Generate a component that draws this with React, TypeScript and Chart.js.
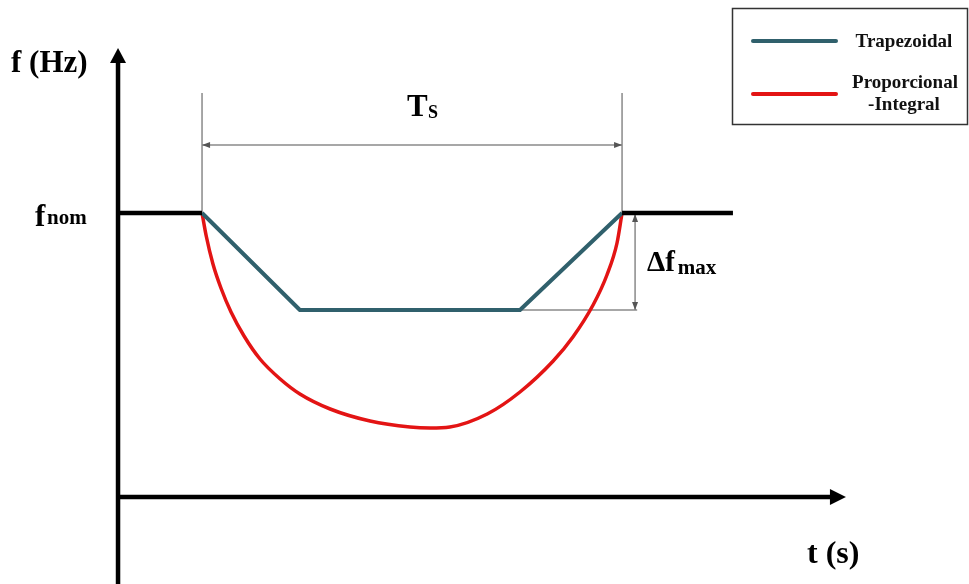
import React, { useEffect, useRef } from "react";
import { Chart, registerables } from "chart.js";
Chart.register(...registerables);

// Scale ranges (time in s, frequency in Hz)
const TIME_MIN = -2.81;
const TIME_MAX = 20.26;
const FREQ_MIN = 46.29;
const FREQ_MAX = 52.13;

const F_NOM = 50;
const SAG_START = 2.0;
const SAG_END = 12.0;
const AXIS_T = 0;
const AXIS_F = 47.16;
const Y_ARROW_F = 51.65;
const X_ARROW_T = 17.33;
const NOM_END_T = 14.64;
const TS_DIM_F = 50.68;
const TS_EXT_F = 51.2;
const DF_DIM_T = 12.31;
const DF_EXT_END_T = 12.36;

// Trapezoidal profile
const trapT = [2.0, 4.33, 9.57, 12.0];
const trapF = [50, 49.03, 49.03, 50];

// Proportional-Integral profile
const piT = [2.0, 2.1, 2.26, 2.45, 2.69, 3.0, 3.38, 3.86, 4.33, 5.05, 6.0, 6.95, 7.43, 7.9, 8.79, 9.57, 10.36, 10.83, 11.31, 11.64, 11.88, 12.0];
const piF = [50, 49.77, 49.49, 49.25, 49.01, 48.77, 48.54, 48.34, 48.19, 48.04, 47.92, 47.86, 47.85, 47.86, 47.99, 48.21, 48.52, 48.76, 49.08, 49.38, 49.7, 50];

// Nominal frequency segments
const nomLeftT = [AXIS_T, SAG_START];
const nomRightT = [SAG_END, NOM_END_T];
const nomF = [F_NOM, F_NOM];

const legendLabels = ["Trapezoidal", "Proporcional", "-Integral"];

const TEAL = "#30606c";
const RED = "#e31414";
const GRAY = "#8a8a8a";
const FONT = '"Liberation Serif", "Times New Roman", serif';

const pts = (xs: number[], ys: number[]) => xs.map((x, i) => ({ x, y: ys[i] }));

function arrowHead(ctx: CanvasRenderingContext2D, x: number, y: number, dx: number, dy: number, len: number, half: number) {
  const px = -dy, py = dx;
  ctx.beginPath();
  ctx.moveTo(x, y);
  ctx.lineTo(x - dx * len + px * half, y - dy * len + py * half);
  ctx.lineTo(x - dx * len - px * half, y - dy * len - py * half);
  ctx.closePath();
  ctx.fill();
}

function text(ctx: CanvasRenderingContext2D, s: string, x: number, y: number, size: number, align: CanvasTextAlign = "left") {
  ctx.font = `bold ${size}px ${FONT}`;
  ctx.textAlign = align;
  ctx.textBaseline = "alphabetic";
  ctx.fillText(s, x, y);
  return ctx.measureText(s).width;
}

const diagramPlugin = {
  id: "diagram",
  beforeDatasetsDraw(chart: any) {
    const ctx: CanvasRenderingContext2D = chart.ctx;
    const xs = chart.scales.x, ys = chart.scales.y;
    const X = (t: number) => xs.getPixelForValue(t);
    const Y = (f: number) => ys.getPixelForValue(f);
    ctx.save();
    // dimension lines (gray)
    ctx.strokeStyle = GRAY;
    ctx.fillStyle = "#555";
    ctx.lineWidth = 1.5;
    ctx.beginPath();
    ctx.moveTo(X(SAG_START), Y(TS_EXT_F));
    ctx.lineTo(X(SAG_START), Y(F_NOM));
    ctx.moveTo(X(SAG_END), Y(TS_EXT_F));
    ctx.lineTo(X(SAG_END), Y(F_NOM));
    ctx.moveTo(X(SAG_START), Y(TS_DIM_F));
    ctx.lineTo(X(SAG_END), Y(TS_DIM_F));
    ctx.moveTo(X(trapT[2]), Y(trapF[2]));
    ctx.lineTo(X(DF_EXT_END_T), Y(trapF[2]));
    ctx.moveTo(X(DF_DIM_T), Y(F_NOM));
    ctx.lineTo(X(DF_DIM_T), Y(trapF[2]));
    ctx.stroke();
    arrowHead(ctx, X(SAG_START), Y(TS_DIM_F), -1, 0, 8, 3);
    arrowHead(ctx, X(SAG_END), Y(TS_DIM_F), 1, 0, 8, 3);
    arrowHead(ctx, X(DF_DIM_T), Y(F_NOM) + 1, 0, -1, 8, 3);
    arrowHead(ctx, X(DF_DIM_T), Y(trapF[2]), 0, 1, 8, 3);

    // axes
    ctx.strokeStyle = "#000";
    ctx.fillStyle = "#000";
    ctx.lineWidth = 4.5;
    ctx.beginPath();
    ctx.moveTo(X(AXIS_T), chart.height);
    ctx.lineTo(X(AXIS_T), Y(Y_ARROW_F) + 10);
    ctx.moveTo(X(AXIS_T) - 2, Y(AXIS_F));
    ctx.lineTo(X(X_ARROW_T) - 10, Y(AXIS_F));
    ctx.stroke();
    arrowHead(ctx, X(AXIS_T), Y(Y_ARROW_F), 0, -1, 15, 8);
    arrowHead(ctx, X(X_ARROW_T), Y(AXIS_F), 1, 0, 16, 8);
    ctx.restore();
  },
  afterDatasetsDraw(chart: any) {
    const ctx: CanvasRenderingContext2D = chart.ctx;
    ctx.save();
    ctx.fillStyle = "#000";
    // axis labels
    text(ctx, "f (Hz)", 11, 72, 31);
    text(ctx, "f", 35, 226, 31);
    text(ctx, "nom", 47, 224, 21);
    text(ctx, "T", 407, 116, 31);
    text(ctx, "S", 428, 118, 18);
    const w = text(ctx, "Δf", 647, 271, 29);
    text(ctx, "max", 647 + w + 3, 274, 21);
    text(ctx, "t (s)", 807, 563, 32);

    // legend
    ctx.strokeStyle = "#333";
    ctx.lineWidth = 1.5;
    ctx.strokeRect(732.5, 8.5, 235, 116);
    ctx.lineCap = "round";
    ctx.lineWidth = 4;
    ctx.strokeStyle = TEAL;
    ctx.beginPath();
    ctx.moveTo(753, 41);
    ctx.lineTo(836, 41);
    ctx.stroke();
    ctx.strokeStyle = RED;
    ctx.beginPath();
    ctx.moveTo(753, 94);
    ctx.lineTo(836, 94);
    ctx.stroke();
    ctx.fillStyle = "#111";
    text(ctx, legendLabels[0], 904, 47, 19, "center");
    text(ctx, legendLabels[1], 905, 88, 19, "center");
    text(ctx, legendLabels[2], 904, 110, 19, "center");
    ctx.restore();
  },
};

export default function App() {
  const ref = useRef<HTMLCanvasElement | null>(null);
  useEffect(() => {
    if (!ref.current) return;
    const chart = new Chart(ref.current, {
      type: "scatter",
      data: {
        datasets: [
          { label: "nomL", data: pts(nomLeftT, nomF), showLine: true, borderColor: "#000", borderWidth: 4.5, pointRadius: 0 },
          { label: "nomR", data: pts(nomRightT, nomF), showLine: true, borderColor: "#000", borderWidth: 4.5, pointRadius: 0 },
          { label: "Trapezoidal", data: pts(trapT, trapF), showLine: true, borderColor: TEAL, borderWidth: 4, pointRadius: 0, borderJoinStyle: "round" },
          { label: "Proporcional-Integral", data: pts(piT, piF), showLine: true, borderColor: RED, borderWidth: 3.5, pointRadius: 0, cubicInterpolationMode: "monotone" },
        ],
      } as any,
      options: {
        animation: false,
        responsive: false,
        layout: { padding: 0 },
        plugins: { legend: { display: false }, tooltip: { enabled: false } },
        scales: {
          x: { type: "linear", display: false, min: TIME_MIN, max: TIME_MAX },
          y: { type: "linear", display: false, min: FREQ_MIN, max: FREQ_MAX },
        },
      } as any,
      plugins: [diagramPlugin],
    });
    return () => chart.destroy();
  }, []);
  return (
    <div style={{ position: "fixed", left: 0, top: 0, width: 969, height: 584, background: "#fff" }}>
      <canvas ref={ref} width={969} height={584} style={{ display: "block" }} />
    </div>
  );
}
